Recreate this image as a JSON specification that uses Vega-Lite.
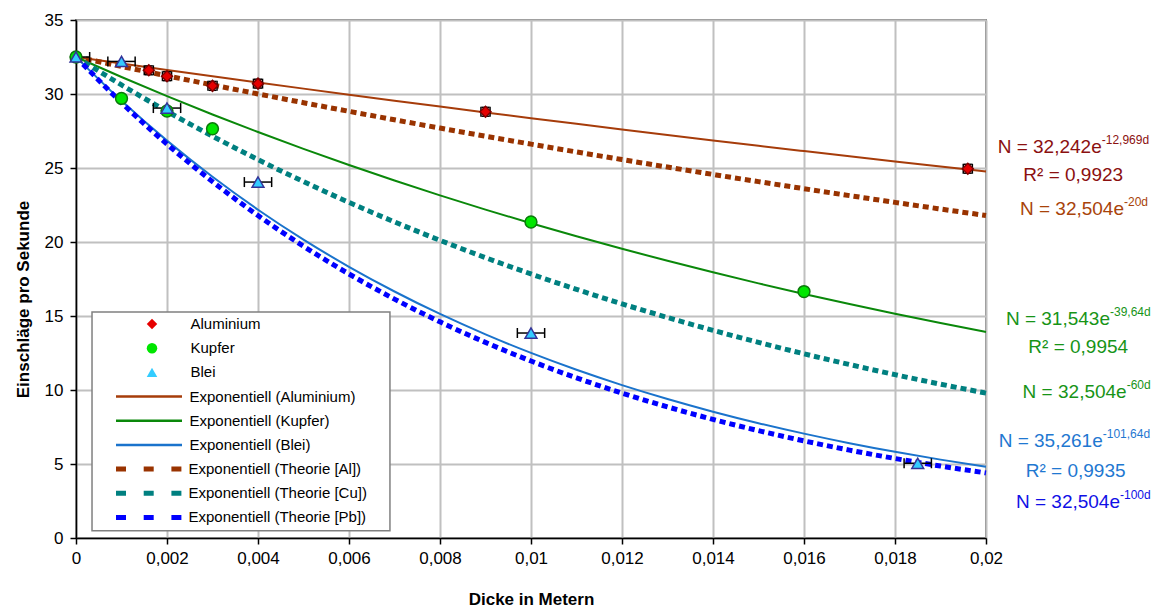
{
 "$schema": "https://vega.github.io/schema/vega-lite/v6.json",
 "width": 910, "height": 518,
 "autosize": {"type": "none"},
 "padding": {"left": 76, "top": 20, "right": 172, "bottom": 70},
 "background": "white",
 "config": {
  "view": {"stroke": "#808080", "strokeWidth": 2},
  "axis": {"labelFont": "Liberation Sans", "labelFontSize": 17, "labelColor": "black", "titleFont": "Liberation Sans", "titleFontSize": 17, "titleFontWeight": "bold", "titleColor": "black", "domainColor": "black", "domainWidth": 1.5, "tickColor": "black", "tickWidth": 1.5, "tickSize": 6, "gridColor": "#c0c0c0", "gridWidth": 2, "gridOpacity": 1},
  "axisX": {"labelPadding": 6, "titlePadding": 25, "labelFlush": false},
  "axisY": {"labelPadding": 7, "titlePadding": 12, "titleY": 279},
  "legend": {"labelFont": "Liberation Sans", "labelFontSize": 15, "labelColor": "black", "labelLimit": 0, "padding": 0, "clipHeight": 20, "rowPadding": 4.2}
 },
 "datasets": {
  "pts": [
   {"series": "Aluminium", "x": 0, "y": 32.5},
   {"series": "Aluminium", "x": 0.0016, "y": 31.6},
   {"series": "Aluminium", "x": 0.002, "y": 31.2},
   {"series": "Aluminium", "x": 0.003, "y": 30.55},
   {"series": "Aluminium", "x": 0.004, "y": 30.7},
   {"series": "Aluminium", "x": 0.009, "y": 28.8},
   {"series": "Aluminium", "x": 0.0196, "y": 24.95},
   {"series": "Kupfer", "x": 0, "y": 32.5},
   {"series": "Kupfer", "x": 0.001, "y": 29.7},
   {"series": "Kupfer", "x": 0.002, "y": 28.85},
   {"series": "Kupfer", "x": 0.003, "y": 27.65},
   {"series": "Kupfer", "x": 0.01, "y": 21.35},
   {"series": "Kupfer", "x": 0.016, "y": 16.65},
   {"series": "Blei", "x": 0, "y": 32.5},
   {"series": "Blei", "x": 0.001, "y": 32.2},
   {"series": "Blei", "x": 0.002, "y": 29.05},
   {"series": "Blei", "x": 0.004, "y": 24.05},
   {"series": "Blei", "x": 0.01, "y": 13.85},
   {"series": "Blei", "x": 0.0185, "y": 5.05}
  ],
  "hbars": [
   {"y": 32.5, "xlo": 0, "xhi": 0.0003},
   {"y": 32.2, "xlo": 0.0007, "xhi": 0.0013},
   {"y": 29.05, "xlo": 0.0017, "xhi": 0.0023},
   {"y": 24.05, "xlo": 0.0037, "xhi": 0.0043},
   {"y": 13.85, "xlo": 0.0097, "xhi": 0.0103},
   {"y": 5.05, "xlo": 0.0182, "xhi": 0.0188},
   {"y": 31.6, "xlo": 0.0015, "xhi": 0.0017},
   {"y": 31.2, "xlo": 0.0019, "xhi": 0.0021},
   {"y": 30.55, "xlo": 0.0029, "xhi": 0.0031},
   {"y": 30.7, "xlo": 0.0039, "xhi": 0.0041},
   {"y": 28.8, "xlo": 0.0089, "xhi": 0.0091},
   {"y": 24.95, "xlo": 0.0195, "xhi": 0.0197}
  ],
  "vbars": [
   {"x": 0.0016, "ylo": 31.3, "yhi": 31.9},
   {"x": 0.002, "ylo": 30.9, "yhi": 31.5},
   {"x": 0.003, "ylo": 30.25, "yhi": 30.85},
   {"x": 0.004, "ylo": 30.4, "yhi": 31.0},
   {"x": 0.009, "ylo": 28.5, "yhi": 29.1},
   {"x": 0.0196, "ylo": 24.65, "yhi": 25.25}
  ],
  "frame": [
   {"x": 0.000352, "x2": 0.0069, "y": 15.27, "y2": 0.49}
  ],
  "curves": [
   {"kind": "fit", "series": "Exponentiell (Aluminium)", "x": 0, "y": 32.5},
   {"kind": "fit", "series": "Exponentiell (Aluminium)", "x": 0.001, "y": 32.061},
   {"kind": "fit", "series": "Exponentiell (Aluminium)", "x": 0.002, "y": 31.628},
   {"kind": "fit", "series": "Exponentiell (Aluminium)", "x": 0.003, "y": 31.201},
   {"kind": "fit", "series": "Exponentiell (Aluminium)", "x": 0.004, "y": 30.779},
   {"kind": "fit", "series": "Exponentiell (Aluminium)", "x": 0.005, "y": 30.363},
   {"kind": "fit", "series": "Exponentiell (Aluminium)", "x": 0.006, "y": 29.953},
   {"kind": "fit", "series": "Exponentiell (Aluminium)", "x": 0.007, "y": 29.549},
   {"kind": "fit", "series": "Exponentiell (Aluminium)", "x": 0.008, "y": 29.150},
   {"kind": "fit", "series": "Exponentiell (Aluminium)", "x": 0.009, "y": 28.756},
   {"kind": "fit", "series": "Exponentiell (Aluminium)", "x": 0.010, "y": 28.367},
   {"kind": "fit", "series": "Exponentiell (Aluminium)", "x": 0.011, "y": 27.984},
   {"kind": "fit", "series": "Exponentiell (Aluminium)", "x": 0.012, "y": 27.606},
   {"kind": "fit", "series": "Exponentiell (Aluminium)", "x": 0.013, "y": 27.233},
   {"kind": "fit", "series": "Exponentiell (Aluminium)", "x": 0.014, "y": 26.865},
   {"kind": "fit", "series": "Exponentiell (Aluminium)", "x": 0.015, "y": 26.502},
   {"kind": "fit", "series": "Exponentiell (Aluminium)", "x": 0.016, "y": 26.145},
   {"kind": "fit", "series": "Exponentiell (Aluminium)", "x": 0.017, "y": 25.792},
   {"kind": "fit", "series": "Exponentiell (Aluminium)", "x": 0.018, "y": 25.443},
   {"kind": "fit", "series": "Exponentiell (Aluminium)", "x": 0.019, "y": 25.099},
   {"kind": "fit", "series": "Exponentiell (Aluminium)", "x": 0.020, "y": 24.760},
   {"kind": "fit", "series": "Exponentiell (Kupfer)", "x": 0, "y": 32.5},
   {"kind": "fit", "series": "Exponentiell (Kupfer)", "x": 0.001, "y": 31.151},
   {"kind": "fit", "series": "Exponentiell (Kupfer)", "x": 0.002, "y": 29.858},
   {"kind": "fit", "series": "Exponentiell (Kupfer)", "x": 0.003, "y": 28.618},
   {"kind": "fit", "series": "Exponentiell (Kupfer)", "x": 0.004, "y": 27.430},
   {"kind": "fit", "series": "Exponentiell (Kupfer)", "x": 0.005, "y": 26.291},
   {"kind": "fit", "series": "Exponentiell (Kupfer)", "x": 0.006, "y": 25.200},
   {"kind": "fit", "series": "Exponentiell (Kupfer)", "x": 0.007, "y": 24.154},
   {"kind": "fit", "series": "Exponentiell (Kupfer)", "x": 0.008, "y": 23.151},
   {"kind": "fit", "series": "Exponentiell (Kupfer)", "x": 0.009, "y": 22.190},
   {"kind": "fit", "series": "Exponentiell (Kupfer)", "x": 0.010, "y": 21.269},
   {"kind": "fit", "series": "Exponentiell (Kupfer)", "x": 0.011, "y": 20.386},
   {"kind": "fit", "series": "Exponentiell (Kupfer)", "x": 0.012, "y": 19.540},
   {"kind": "fit", "series": "Exponentiell (Kupfer)", "x": 0.013, "y": 18.729},
   {"kind": "fit", "series": "Exponentiell (Kupfer)", "x": 0.014, "y": 17.951},
   {"kind": "fit", "series": "Exponentiell (Kupfer)", "x": 0.015, "y": 17.206},
   {"kind": "fit", "series": "Exponentiell (Kupfer)", "x": 0.016, "y": 16.492},
   {"kind": "fit", "series": "Exponentiell (Kupfer)", "x": 0.017, "y": 15.807},
   {"kind": "fit", "series": "Exponentiell (Kupfer)", "x": 0.018, "y": 15.151},
   {"kind": "fit", "series": "Exponentiell (Kupfer)", "x": 0.019, "y": 14.522},
   {"kind": "fit", "series": "Exponentiell (Kupfer)", "x": 0.020, "y": 13.919},
   {"kind": "fit", "series": "Exponentiell (Blei)", "x": 0, "y": 32.5},
   {"kind": "fit", "series": "Exponentiell (Blei)", "x": 0.001, "y": 29.540},
   {"kind": "fit", "series": "Exponentiell (Blei)", "x": 0.002, "y": 26.849},
   {"kind": "fit", "series": "Exponentiell (Blei)", "x": 0.003, "y": 24.404},
   {"kind": "fit", "series": "Exponentiell (Blei)", "x": 0.004, "y": 22.181},
   {"kind": "fit", "series": "Exponentiell (Blei)", "x": 0.005, "y": 20.161},
   {"kind": "fit", "series": "Exponentiell (Blei)", "x": 0.006, "y": 18.325},
   {"kind": "fit", "series": "Exponentiell (Blei)", "x": 0.007, "y": 16.656},
   {"kind": "fit", "series": "Exponentiell (Blei)", "x": 0.008, "y": 15.138},
   {"kind": "fit", "series": "Exponentiell (Blei)", "x": 0.009, "y": 13.760},
   {"kind": "fit", "series": "Exponentiell (Blei)", "x": 0.010, "y": 12.506},
   {"kind": "fit", "series": "Exponentiell (Blei)", "x": 0.011, "y": 11.367},
   {"kind": "fit", "series": "Exponentiell (Blei)", "x": 0.012, "y": 10.332},
   {"kind": "fit", "series": "Exponentiell (Blei)", "x": 0.013, "y": 9.391},
   {"kind": "fit", "series": "Exponentiell (Blei)", "x": 0.014, "y": 8.536},
   {"kind": "fit", "series": "Exponentiell (Blei)", "x": 0.015, "y": 7.758},
   {"kind": "fit", "series": "Exponentiell (Blei)", "x": 0.016, "y": 7.052},
   {"kind": "fit", "series": "Exponentiell (Blei)", "x": 0.017, "y": 6.409},
   {"kind": "fit", "series": "Exponentiell (Blei)", "x": 0.018, "y": 5.826},
   {"kind": "fit", "series": "Exponentiell (Blei)", "x": 0.019, "y": 5.295},
   {"kind": "fit", "series": "Exponentiell (Blei)", "x": 0.020, "y": 4.813},
   {"kind": "th", "series": "Exponentiell (Theorie [Al])", "x": 0, "y": 32.504},
   {"kind": "th", "series": "Exponentiell (Theorie [Al])", "x": 0.001, "y": 31.860},
   {"kind": "th", "series": "Exponentiell (Theorie [Al])", "x": 0.002, "y": 31.229},
   {"kind": "th", "series": "Exponentiell (Theorie [Al])", "x": 0.003, "y": 30.611},
   {"kind": "th", "series": "Exponentiell (Theorie [Al])", "x": 0.004, "y": 30.005},
   {"kind": "th", "series": "Exponentiell (Theorie [Al])", "x": 0.005, "y": 29.411},
   {"kind": "th", "series": "Exponentiell (Theorie [Al])", "x": 0.006, "y": 28.828},
   {"kind": "th", "series": "Exponentiell (Theorie [Al])", "x": 0.007, "y": 28.257},
   {"kind": "th", "series": "Exponentiell (Theorie [Al])", "x": 0.008, "y": 27.698},
   {"kind": "th", "series": "Exponentiell (Theorie [Al])", "x": 0.009, "y": 27.149},
   {"kind": "th", "series": "Exponentiell (Theorie [Al])", "x": 0.010, "y": 26.612},
   {"kind": "th", "series": "Exponentiell (Theorie [Al])", "x": 0.011, "y": 26.085},
   {"kind": "th", "series": "Exponentiell (Theorie [Al])", "x": 0.012, "y": 25.569},
   {"kind": "th", "series": "Exponentiell (Theorie [Al])", "x": 0.013, "y": 25.062},
   {"kind": "th", "series": "Exponentiell (Theorie [Al])", "x": 0.014, "y": 24.566},
   {"kind": "th", "series": "Exponentiell (Theorie [Al])", "x": 0.015, "y": 24.079},
   {"kind": "th", "series": "Exponentiell (Theorie [Al])", "x": 0.016, "y": 23.603},
   {"kind": "th", "series": "Exponentiell (Theorie [Al])", "x": 0.017, "y": 23.135},
   {"kind": "th", "series": "Exponentiell (Theorie [Al])", "x": 0.018, "y": 22.677},
   {"kind": "th", "series": "Exponentiell (Theorie [Al])", "x": 0.019, "y": 22.228},
   {"kind": "th", "series": "Exponentiell (Theorie [Al])", "x": 0.020, "y": 21.788},
   {"kind": "th", "series": "Exponentiell (Theorie [Cu])", "x": 0, "y": 32.504},
   {"kind": "th", "series": "Exponentiell (Theorie [Cu])", "x": 0.001, "y": 30.611},
   {"kind": "th", "series": "Exponentiell (Theorie [Cu])", "x": 0.002, "y": 28.828},
   {"kind": "th", "series": "Exponentiell (Theorie [Cu])", "x": 0.003, "y": 27.149},
   {"kind": "th", "series": "Exponentiell (Theorie [Cu])", "x": 0.004, "y": 25.569},
   {"kind": "th", "series": "Exponentiell (Theorie [Cu])", "x": 0.005, "y": 24.079},
   {"kind": "th", "series": "Exponentiell (Theorie [Cu])", "x": 0.006, "y": 22.677},
   {"kind": "th", "series": "Exponentiell (Theorie [Cu])", "x": 0.007, "y": 21.357},
   {"kind": "th", "series": "Exponentiell (Theorie [Cu])", "x": 0.008, "y": 20.113},
   {"kind": "th", "series": "Exponentiell (Theorie [Cu])", "x": 0.009, "y": 18.942},
   {"kind": "th", "series": "Exponentiell (Theorie [Cu])", "x": 0.010, "y": 17.839},
   {"kind": "th", "series": "Exponentiell (Theorie [Cu])", "x": 0.011, "y": 16.800},
   {"kind": "th", "series": "Exponentiell (Theorie [Cu])", "x": 0.012, "y": 15.821},
   {"kind": "th", "series": "Exponentiell (Theorie [Cu])", "x": 0.013, "y": 14.900},
   {"kind": "th", "series": "Exponentiell (Theorie [Cu])", "x": 0.014, "y": 14.032},
   {"kind": "th", "series": "Exponentiell (Theorie [Cu])", "x": 0.015, "y": 13.215},
   {"kind": "th", "series": "Exponentiell (Theorie [Cu])", "x": 0.016, "y": 12.446},
   {"kind": "th", "series": "Exponentiell (Theorie [Cu])", "x": 0.017, "y": 11.721},
   {"kind": "th", "series": "Exponentiell (Theorie [Cu])", "x": 0.018, "y": 11.038},
   {"kind": "th", "series": "Exponentiell (Theorie [Cu])", "x": 0.019, "y": 10.395},
   {"kind": "th", "series": "Exponentiell (Theorie [Cu])", "x": 0.020, "y": 9.790},
   {"kind": "th", "series": "Exponentiell (Theorie [Pb])", "x": 0, "y": 32.504},
   {"kind": "th", "series": "Exponentiell (Theorie [Pb])", "x": 0.001, "y": 29.411},
   {"kind": "th", "series": "Exponentiell (Theorie [Pb])", "x": 0.002, "y": 26.612},
   {"kind": "th", "series": "Exponentiell (Theorie [Pb])", "x": 0.003, "y": 24.079},
   {"kind": "th", "series": "Exponentiell (Theorie [Pb])", "x": 0.004, "y": 21.788},
   {"kind": "th", "series": "Exponentiell (Theorie [Pb])", "x": 0.005, "y": 19.715},
   {"kind": "th", "series": "Exponentiell (Theorie [Pb])", "x": 0.006, "y": 17.839},
   {"kind": "th", "series": "Exponentiell (Theorie [Pb])", "x": 0.007, "y": 16.141},
   {"kind": "th", "series": "Exponentiell (Theorie [Pb])", "x": 0.008, "y": 14.605},
   {"kind": "th", "series": "Exponentiell (Theorie [Pb])", "x": 0.009, "y": 13.215},
   {"kind": "th", "series": "Exponentiell (Theorie [Pb])", "x": 0.010, "y": 11.958},
   {"kind": "th", "series": "Exponentiell (Theorie [Pb])", "x": 0.011, "y": 10.820},
   {"kind": "th", "series": "Exponentiell (Theorie [Pb])", "x": 0.012, "y": 9.790},
   {"kind": "th", "series": "Exponentiell (Theorie [Pb])", "x": 0.013, "y": 8.858},
   {"kind": "th", "series": "Exponentiell (Theorie [Pb])", "x": 0.014, "y": 8.015},
   {"kind": "th", "series": "Exponentiell (Theorie [Pb])", "x": 0.015, "y": 7.253},
   {"kind": "th", "series": "Exponentiell (Theorie [Pb])", "x": 0.016, "y": 6.562},
   {"kind": "th", "series": "Exponentiell (Theorie [Pb])", "x": 0.017, "y": 5.938},
   {"kind": "th", "series": "Exponentiell (Theorie [Pb])", "x": 0.018, "y": 5.373},
   {"kind": "th", "series": "Exponentiell (Theorie [Pb])", "x": 0.019, "y": 4.862},
   {"kind": "th", "series": "Exponentiell (Theorie [Pb])", "x": 0.020, "y": 4.399}
  ],
  "notes": [
   {"grp": "al", "kind": "main", "x": 0.022543, "y": 25.99, "label": "N = 32,242e"},
   {"grp": "al", "kind": "sup", "x": 0.022543, "y": 26.62, "label": "-12,969d"},
   {"grp": "al", "kind": "r2", "x": 0.020820, "y": 24.14, "label": "R² = 0,9923"},
   {"grp": "alth", "kind": "main", "x": 0.023033, "y": 21.82, "label": "N = 32,504e"},
   {"grp": "alth", "kind": "sup", "x": 0.023033, "y": 22.43, "label": "-20d"},
   {"grp": "cu", "kind": "main", "x": 0.022725, "y": 14.39, "label": "N = 31,543e"},
   {"grp": "cu", "kind": "sup", "x": 0.022725, "y": 15.0, "label": "-39,64d"},
   {"grp": "cu", "kind": "r2", "x": 0.020930, "y": 12.48, "label": "R² = 0,9954"},
   {"grp": "cu", "kind": "main", "x": 0.023092, "y": 9.44, "label": "N = 32,504e"},
   {"grp": "cu", "kind": "sup", "x": 0.023092, "y": 10.07, "label": "-60d"},
   {"grp": "pb", "kind": "main", "x": 0.022565, "y": 6.13, "label": "N = 35,261e"},
   {"grp": "pb", "kind": "sup", "x": 0.022565, "y": 6.76, "label": "-101,64d"},
   {"grp": "pb", "kind": "r2", "x": 0.020873, "y": 4.14, "label": "R² = 0,9935"},
   {"grp": "pbth", "kind": "main", "x": 0.022945, "y": 2.01, "label": "N = 32,504e"},
   {"grp": "pbth", "kind": "sup", "x": 0.022945, "y": 2.64, "label": "-100d"}
  ]
 },
 "encoding": {
  "x": {"field": "x", "type": "quantitative", "title": "Dicke in Metern",
        "scale": {"domain": [0, 0.02], "nice": false, "zero": false},
        "axis": {"values": [0, 0.002, 0.004, 0.006, 0.008, 0.01, 0.012, 0.014, 0.016, 0.018, 0.02], "labelExpr": "replace(format(datum.value, '~g'), '.', ',')"}},
  "y": {"field": "y", "type": "quantitative", "title": "Einschläge pro Sekunde",
        "scale": {"domain": [0, 35], "nice": false},
        "axis": {"values": [0, 5, 10, 15, 20, 25, 30, 35]}}
 },
 "layer": [
  {"data": {"name": "curves"}, "transform": [{"filter": "datum.kind == 'fit'"}],
   "mark": {"type": "line", "strokeWidth": 2, "interpolate": "monotone"},
   "encoding": {"color": {"field": "series", "type": "nominal",
     "scale": {"domain": ["Exponentiell (Aluminium)", "Exponentiell (Kupfer)", "Exponentiell (Blei)"], "range": ["#a63c0a", "#0a880a", "#1a73cc"]},
     "legend": {"title": null, "orient": "none", "legendX": 40, "legendY": 366.5, "symbolType": "stroke", "symbolSize": 4356, "symbolStrokeWidth": 2.5, "symbolOffset": -1.5, "labelOffset": 6}}}},
  {"data": {"name": "curves"}, "transform": [{"filter": "datum.kind == 'th'"}],
   "mark": {"type": "line", "strokeWidth": 5, "strokeDash": [6, 4], "strokeCap": "butt", "interpolate": "monotone"},
   "encoding": {"stroke": {"field": "series", "type": "nominal",
     "scale": {"domain": ["Exponentiell (Theorie [Al])", "Exponentiell (Theorie [Cu])", "Exponentiell (Theorie [Pb])"], "range": ["#993300", "#008080", "#0000ff"]},
     "legend": {"title": null, "orient": "none", "legendX": 40, "legendY": 439, "symbolType": "stroke", "symbolSize": 4356, "symbolStrokeWidth": 5, "symbolDash": [10, 17.7], "symbolOffset": -2.5, "labelOffset": 4}}}},
  {"data": {"name": "hbars"}, "mark": {"type": "rule", "color": "black", "strokeWidth": 1.5},
   "encoding": {"x": {"field": "xlo", "type": "quantitative", "title": "Dicke in Metern"}, "x2": {"field": "xhi"}}},
  {"data": {"name": "hbars"}, "mark": {"type": "tick", "orient": "vertical", "color": "black", "size": 10, "thickness": 1.5, "opacity": 1},
   "encoding": {"x": {"field": "xlo", "type": "quantitative", "title": "Dicke in Metern"}}},
  {"data": {"name": "hbars"}, "mark": {"type": "tick", "orient": "vertical", "color": "black", "size": 10, "thickness": 1.5, "opacity": 1},
   "encoding": {"x": {"field": "xhi", "type": "quantitative", "title": "Dicke in Metern"}}},
  {"data": {"name": "vbars"}, "mark": {"type": "rule", "color": "black", "strokeWidth": 1.5},
   "encoding": {"y": {"field": "ylo", "type": "quantitative", "title": "Einschläge pro Sekunde"}, "y2": {"field": "yhi"}}},
  {"data": {"name": "vbars"}, "mark": {"type": "tick", "orient": "horizontal", "color": "black", "size": 8, "thickness": 1.5, "opacity": 1},
   "encoding": {"y": {"field": "ylo", "type": "quantitative", "title": "Einschläge pro Sekunde"}}},
  {"data": {"name": "vbars"}, "mark": {"type": "tick", "orient": "horizontal", "color": "black", "size": 8, "thickness": 1.5, "opacity": 1},
   "encoding": {"y": {"field": "yhi", "type": "quantitative", "title": "Einschläge pro Sekunde"}}},
  {"data": {"name": "pts"}, "transform": [{"filter": "datum.series == 'Aluminium'"}],
   "mark": {"type": "point", "filled": true, "size": 120, "stroke": "#800000", "strokeWidth": 1.5, "opacity": 1},
   "encoding": {
     "fill": {"field": "series", "type": "nominal", "scale": {"domain": ["Aluminium", "Kupfer", "Blei"], "range": ["#e60000", "#00e600", "#33ccff"]},
       "legend": {"title": null, "orient": "none", "legendX": 60, "legendY": 294, "symbolSize": 110, "symbolStrokeColor": "#404040", "symbolStrokeWidth": 1.5, "symbolOffset": 8.5, "labelOffset": 31}},
     "shape": {"field": "series", "type": "nominal", "scale": {"domain": ["Aluminium", "Kupfer", "Blei"], "range": ["diamond", "circle", "triangle-up"]},
       "legend": {"title": null, "orient": "none", "legendX": 60, "legendY": 294, "symbolSize": 110, "symbolStrokeColor": "#404040", "symbolStrokeWidth": 1.5, "symbolOffset": 8.5, "labelOffset": 31}}
   }},
  {"data": {"name": "pts"}, "transform": [{"filter": "datum.series == 'Kupfer'"}],
   "mark": {"type": "point", "filled": true, "size": 140, "stroke": "#0a7a0a", "strokeWidth": 1.5, "opacity": 1},
   "encoding": {"fill": {"field": "series", "type": "nominal"}, "shape": {"field": "series", "type": "nominal"}}},
  {"data": {"name": "pts"}, "transform": [{"filter": "datum.series == 'Blei'"}],
   "mark": {"type": "point", "filled": true, "size": 140, "stroke": "#333399", "strokeWidth": 1.5, "opacity": 1},
   "encoding": {"fill": {"field": "series", "type": "nominal"}, "shape": {"field": "series", "type": "nominal"}}},
  {"data": {"name": "notes"}, "transform": [{"filter": "datum.kind == 'main'"}],
   "mark": {"type": "text", "align": "right", "baseline": "alphabetic", "font": "Liberation Sans", "fontSize": 19},
   "encoding": {"text": {"field": "label"}, "color": {"field": "grp", "type": "nominal", "scale": {"domain": ["al", "alth", "cu", "pb", "pbth"], "range": ["#8b1010", "#a8430a", "#179417", "#1f78d1", "#1010e6"]}, "legend": null}}},
  {"data": {"name": "notes"}, "transform": [{"filter": "datum.kind == 'sup'"}],
   "mark": {"type": "text", "align": "left", "baseline": "alphabetic", "font": "Liberation Sans", "fontSize": 12},
   "encoding": {"text": {"field": "label"}, "color": {"field": "grp", "type": "nominal", "scale": {"domain": ["al", "alth", "cu", "pb", "pbth"], "range": ["#8b1010", "#a8430a", "#179417", "#1f78d1", "#1010e6"]}, "legend": null}}},
  {"data": {"name": "notes"}, "transform": [{"filter": "datum.kind == 'r2'"}],
   "mark": {"type": "text", "align": "left", "baseline": "alphabetic", "font": "Liberation Sans", "fontSize": 19},
   "encoding": {"text": {"field": "label"}, "color": {"field": "grp", "type": "nominal", "scale": {"domain": ["al", "alth", "cu", "pb", "pbth"], "range": ["#8b1010", "#a8430a", "#179417", "#1f78d1", "#1010e6"]}, "legend": null}}},
  {"data": {"name": "frame"},
   "mark": {"type": "rect", "fill": "white", "stroke": "#808080", "strokeWidth": 1.5},
   "encoding": {"x": {"field": "x", "type": "quantitative", "title": "Dicke in Metern"}, "x2": {"field": "x2"}, "y": {"field": "y", "type": "quantitative", "title": "Einschläge pro Sekunde"}, "y2": {"field": "y2"}}}
 ],
 "resolve": {"scale": {"color": "independent"}}
}
